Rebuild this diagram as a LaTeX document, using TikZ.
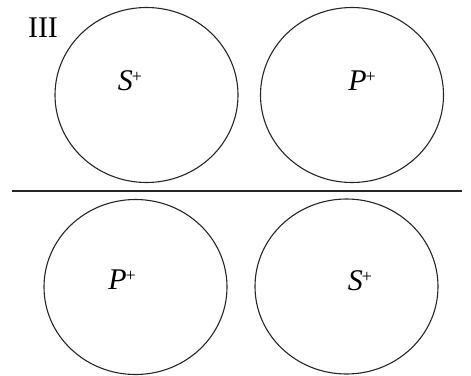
\documentclass[tikz,border=0pt]{standalone}
\usepackage{fontspec}
\setmainfont{Liberation Serif}
\usetikzlibrary{shapes.geometric}
\newcommand{\ionlab}[1]{\textit{#1}\kern-1pt\raisebox{8pt}{\fontsize{18}{20}\selectfont +}}
\begin{document}
\begin{tikzpicture}[x=1pt,y=-1pt,
  cell/.style={draw=black!85,line width=1.1pt,ellipse,minimum width=183pt,minimum height=175pt,inner sep=0pt},
  lab/.style={font=\fontsize{30}{34}\selectfont,inner sep=0pt}]
\useasboundingbox (0,0) rectangle (471,375);
\node[cell] (c1) at (146.5,95) {};
\node[cell] (c2) at (352,95) {};
\node[cell] (c3) at (135.5,287) {};
\node[cell] (c4) at (346.5,286.5) {};
\node[lab] (t1) at (130,81) {\ionlab{S}};
\node[lab] (t2) at (362,81) {\ionlab{P}};
\node[lab] (t3) at (122,280) {\ionlab{P}};
\node[lab] (t4) at (360,281) {\ionlab{S}};
\node[lab] (num) at (43,28) {III};
\coordinate (l1) at (12,191);
\coordinate (l2) at (462,191);
\draw[line width=1.1pt,black!85] (l1) -- (l2);
\end{tikzpicture}
\end{document}
